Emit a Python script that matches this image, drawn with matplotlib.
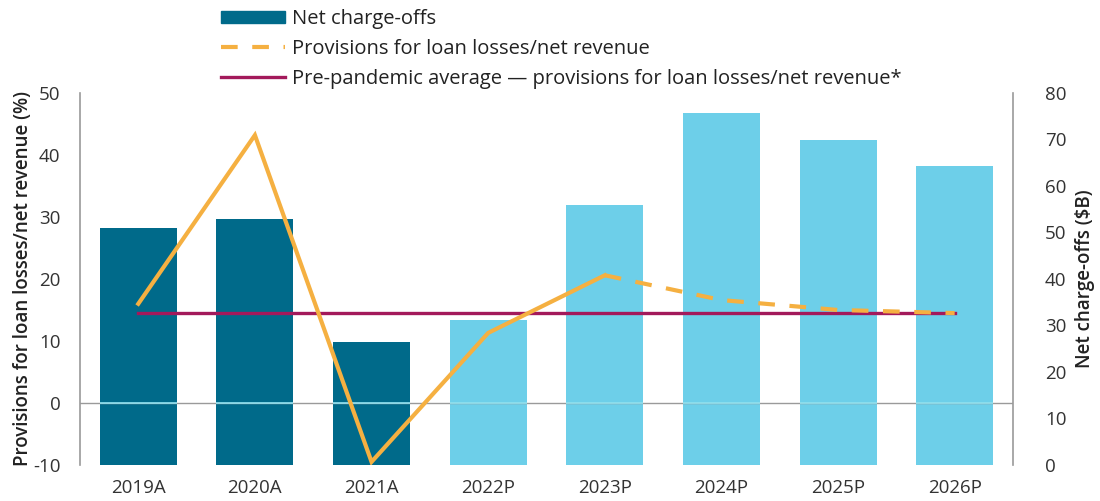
import matplotlib.pyplot as plt
from matplotlib.patches import Patch
from matplotlib.lines import Line2D
import numpy as np

plt.rcParams['font.family'] = ['Open Sans', 'DejaVu Sans']
plt.rcParams['axes.unicode_minus'] = False

# datos
anios = ['2019A', '2020A', '2021A', '2022P', '2023P', '2024P', '2025P', '2026P']
charge_offs = [51.0, 52.8, 26.5, 31.2, 55.9, 75.6, 69.9, 64.2]   # $B, eje derecho
provisiones = [16.0, 43.2, -9.5, 11.3, 20.6, 16.6, 15.0, 14.5]   # %, eje izquierdo
promedio_prepandemia = 14.5
es_actual = [True, True, True, False, False, False, False, False]

oscuro = '#006a8a'
claro = '#6dcfe9'
naranja = '#f5b041'
magenta = '#a3195b'
gris = '#9a9a9a'

fig = plt.figure(figsize=(11, 5.01), dpi=100)
ax = fig.add_axes([0.0727, 0.0719, 0.8482, 0.7425])
ax2 = ax.twinx()

x = np.arange(len(anios))
ancho = 0.66
colores = [oscuro if a else claro for a in es_actual]
ax2.bar(x, charge_offs, width=ancho, color=colores, zorder=2)
ax2.set_ylim(0, 80)
ax2.set_yticks(range(0, 81, 10))

# linea del cero
ax.axhline(0, color=gris, lw=1, zorder=1)
ax.hlines([0] * len(x), x - ancho / 2, x + ancho / 2, color='#8fe3f2', lw=1.2, zorder=3)

# provisiones: solida hasta 2023P, luego discontinua
corte = 4
ax.plot(x[:corte + 1], provisiones[:corte + 1], color=naranja, lw=3, zorder=5,
        solid_joinstyle='miter')
ax.plot(x[corte:], provisiones[corte:], color=naranja, lw=3, zorder=5,
        linestyle=(0, (4, 3.5)))
ax.plot([x[0], x[-1]], [promedio_prepandemia] * 2, color=magenta, lw=2.4, zorder=4)

ax.set_zorder(ax2.get_zorder() + 1)
ax.patch.set_visible(False)

ax.set_xlim(-0.5, len(anios) - 0.5)
ax.set_ylim(-10, 50)
ax.set_yticks(range(-10, 51, 10))
ax.set_xticks(x)
ax.set_xticklabels(anios)

for a in (ax, ax2):
    for s in ['top', 'bottom', 'left', 'right']:
        a.spines[s].set_visible(False)
    a.tick_params(length=0, labelsize=13.5, labelcolor='#333333')
ax.spines['left'].set_visible(True)
ax.spines['left'].set_color(gris)
ax.spines['left'].set_linewidth(1.2)
ax2.spines['right'].set_visible(True)
ax2.spines['right'].set_color(gris)
ax2.spines['right'].set_linewidth(1.2)
ax.tick_params(axis='y', pad=14)
ax.tick_params(axis='x', pad=10)
ax2.tick_params(axis='y', pad=23)

ax.set_ylabel('Provisions for loan losses/net revenue (%)', fontsize=13.5,
              fontweight='semibold', color='#222222', labelpad=0)
ax2.set_ylabel('Net charge-offs ($B)', fontsize=13.5, fontweight='semibold',
               color='#222222', labelpad=6)

handles = [Patch(color=oscuro),
           Line2D([], [], color=naranja, lw=3, linestyle=(0, (4, 3.5))),
           Line2D([], [], color=magenta, lw=2.4)]
etiquetas = ['Net charge-offs', 'Provisions for loan losses/net revenue',
             'Pre-pandemic average \u2014 provisions for loan losses/net revenue*']
fig.legend(handles, etiquetas, loc='upper left', bbox_to_anchor=(0.197, 0.99),
           frameon=False, fontsize=14.5, handlelength=3.2, handleheight=0.6,
           handletextpad=0.35, labelspacing=0.5, borderpad=0.2, borderaxespad=0,
           labelcolor='#222222')

fig.savefig('out.png', dpi=100)
